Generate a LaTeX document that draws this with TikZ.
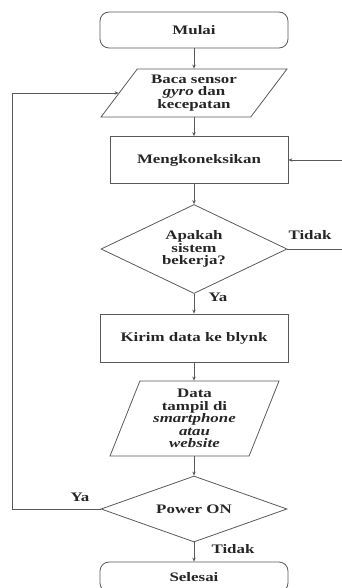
\documentclass[tikz,border=0pt]{standalone}
\usepackage{fontspec}
\setmainfont{Liberation Serif}[FakeStretch=1.3]
\usetikzlibrary{shapes.geometric,arrows.meta}

\begin{document}
\begin{tikzpicture}[x=1pt,y=-1pt,
  every node/.style={font=\fontsize{13}{12.5}\selectfont\bfseries,text=black!85,align=center},
  line/.style={draw=black!65,line width=0.8pt},
  arr/.style={line,-{Stealth[length=4pt,width=3.5pt]}},
  box/.style={line,rectangle,inner sep=0pt,minimum width=188,minimum height=48},
  term/.style={box,rounded corners=9pt,minimum height=36},
  io/.style={line,trapezium,trapezium stretches body=true,inner sep=0pt},
  dec/.style={line,diamond,aspect=2,inner sep=0pt,minimum width=186}]
\useasboundingbox (0,0) rectangle (342,588);
\clip (0,0) rectangle (342,588);
\node[term] (mulai) at (194,30) {Mulai};
\node[io,trapezium left angle=45,trapezium right angle=135,minimum width=186,minimum height=48] (baca) at (194,93) {Baca sensor\\\textit{gyro} dan\\kecepatan};
\node[box,minimum width=178,minimum height=47] (koneksi) at (199,160) {Mengkoneksikan};
\node[dec,minimum height=89] (kerja) at (194,249) {Apakah\\sistem\\bekerja?};
\node[box] (kirim) at (194,338) {Kirim data ke blynk};
\node[io,trapezium left angle=63,trapezium right angle=117,minimum width=169,minimum height=75] (tampil) at (194.5,418.5) {Data\\tampil di\\\textit{smartphone}\\\textit{atau}\\\textit{website}};
\node[dec,minimum height=66] (power) at (194,509) {Power ON};
\node[term,minimum height=30] (selesai) at (194,577) {Selesai};
\coordinate (masuk) at (342,160);
\coordinate (keluar) at (342,249);
\coordinate (balik) at (12,509);
\draw[arr] (mulai.south -| kerja) -- (baca.north -| kerja);
\draw[arr] (baca.south -| kerja) -- (koneksi.north -| kerja);
\draw[arr] (koneksi.south -| kerja) -- (kerja.north);
\draw[arr] (kerja.south) -- (kirim.north);
\draw[arr] (kirim.south) -- (tampil.north -| kirim);
\draw[arr] (tampil.south -| kirim) -- (power.north);
\draw[arr] (power.south) -- (selesai.north);
\draw[arr] (masuk) -- (koneksi.east);
\draw[line] (kerja.east) -- (keluar);
\draw[arr] (power.west) -- (balik) |- (baca);
\node (tidak1) at (310,235) {Tidak};
\node (ya1) at (218,297) {Ya};
\node (ya2) at (80,497) {Ya};
\node (tidak2) at (233,549) {Tidak};
\end{tikzpicture}
\end{document}
